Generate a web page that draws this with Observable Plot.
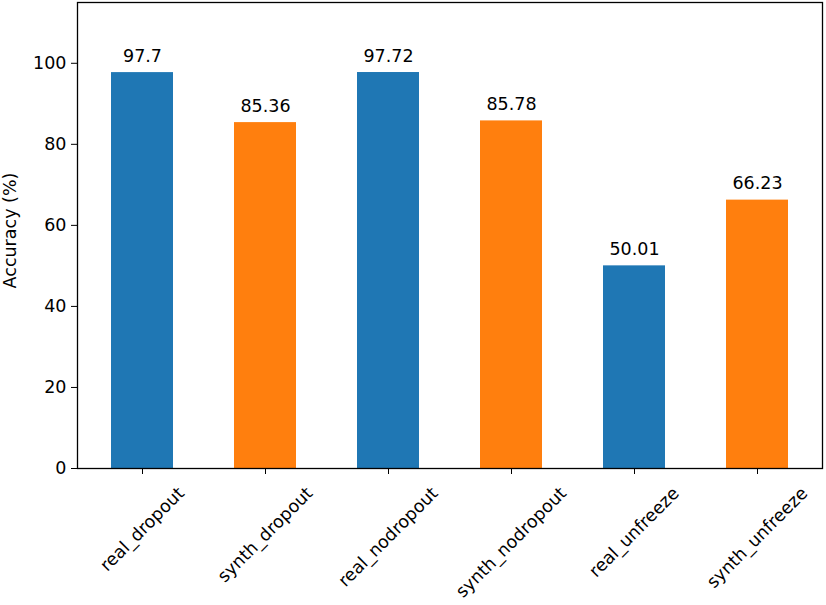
<!DOCTYPE html>
<html>
<head>
<meta charset="utf-8">
<script src="https://cdn.jsdelivr.net/npm/d3@7"></script>
<script src="https://cdn.jsdelivr.net/npm/@observablehq/plot@0.6"></script>
<style>
  body { margin: 0; background: #fff; }
  #chart svg { display: block; }
</style>
</head>
<body>
<div id="chart"></div>
<script>
const categories = ["real_dropout", "synth_dropout", "real_nodropout", "synth_nodropout", "real_unfreeze", "synth_unfreeze"];
const accuracy = [97.7, 85.36, 97.72, 85.78, 50.01, 66.23];
const valueLabels = ["97.7", "85.36", "97.72", "85.78", "50.01", "66.23"];
const kinds = ["real", "synth", "real", "synth", "real", "synth"];
const yTicks = [0, 20, 40, 60, 80, 100];

const data = categories.map((c, i) => ({category: c, value: accuracy[i], label: valueLabels[i], kind: kinds[i]}));

const W = 826, H = 605;
const mL = 77, mR = 4, mT = 2, mB = 137;
const FONT = "DejaVu Sans, sans-serif";

const chart = Plot.plot({
  width: W,
  height: H,
  marginLeft: mL,
  marginRight: mR,
  marginTop: mT,
  marginBottom: mB,
  style: {fontFamily: FONT, fontSize: "17.5px", color: "#000", background: "#fff"},
  x: {domain: categories, paddingInner: 0.5, paddingOuter: 0.275, label: null},
  y: {domain: [0, 115], label: null},
  color: {domain: ["real", "synth"], range: ["#1f77b4", "#ff7f0e"]},
  marks: [
    Plot.barY(data, {x: "category", y: "value", fill: "kind"}),
    Plot.text(data, {x: "category", y: "value", text: "label", textAnchor: "middle", lineAnchor: "bottom", dy: -11, fill: "#000", fontSize: 17.5}),
    Plot.axisY({ticks: yTicks, tickSize: 6, tickPadding: 5, tickFormat: d => String(d), label: "Accuracy (%)", labelAnchor: "center", labelArrow: "none", labelOffset: 74, fontSize: 17.5, stroke: "#000"}),
    Plot.axisX({tickSize: 6, tickRotate: -45, label: null, fontSize: 17.5, stroke: "#000"}),
    Plot.frame({stroke: "#000", strokeWidth: 1.3})
  ]
});

document.getElementById("chart").appendChild(chart);

// Matplotlib-style rotated tick labels: the rotated bounding box is centred on the tick.
const svg = d3.select(chart);
const xScale = chart.scale("x");
const bottom = H - mB;
const labelGroup = svg.select("g[aria-label='x-axis tick label']");
labelGroup.attr("transform", null).attr("text-anchor", "middle");
labelGroup.selectAll("text").each(function() {
  const t = d3.select(this);
  const txt = t.text();
  t.attr("text-anchor", "middle").attr("dy", null).attr("y", null).attr("x", null)
   .attr("dominant-baseline", "central");
  const w = this.getComputedTextLength();
  const lineH = 20;
  const half = (w + lineH) * Math.SQRT1_2 / 2;
  const cx = xScale.apply(txt) + xScale.bandwidth / 2;
  const cy = bottom + 15 + half;
  t.attr("transform", `translate(${cx},${cy}) rotate(-45)`);
});
// nudge y label slightly upward like the reference
const yl = svg.select("g[aria-label='y-axis label'] text");
if (!yl.empty()) {
  const tr = yl.attr("transform") || "";
  yl.attr("transform", tr.replace(/translate\(([-\d.]+),([-\d.]+)\)/, (m, a, b) => `translate(${a},${+b - 5})`));
}
</script>
</body>
</html>
